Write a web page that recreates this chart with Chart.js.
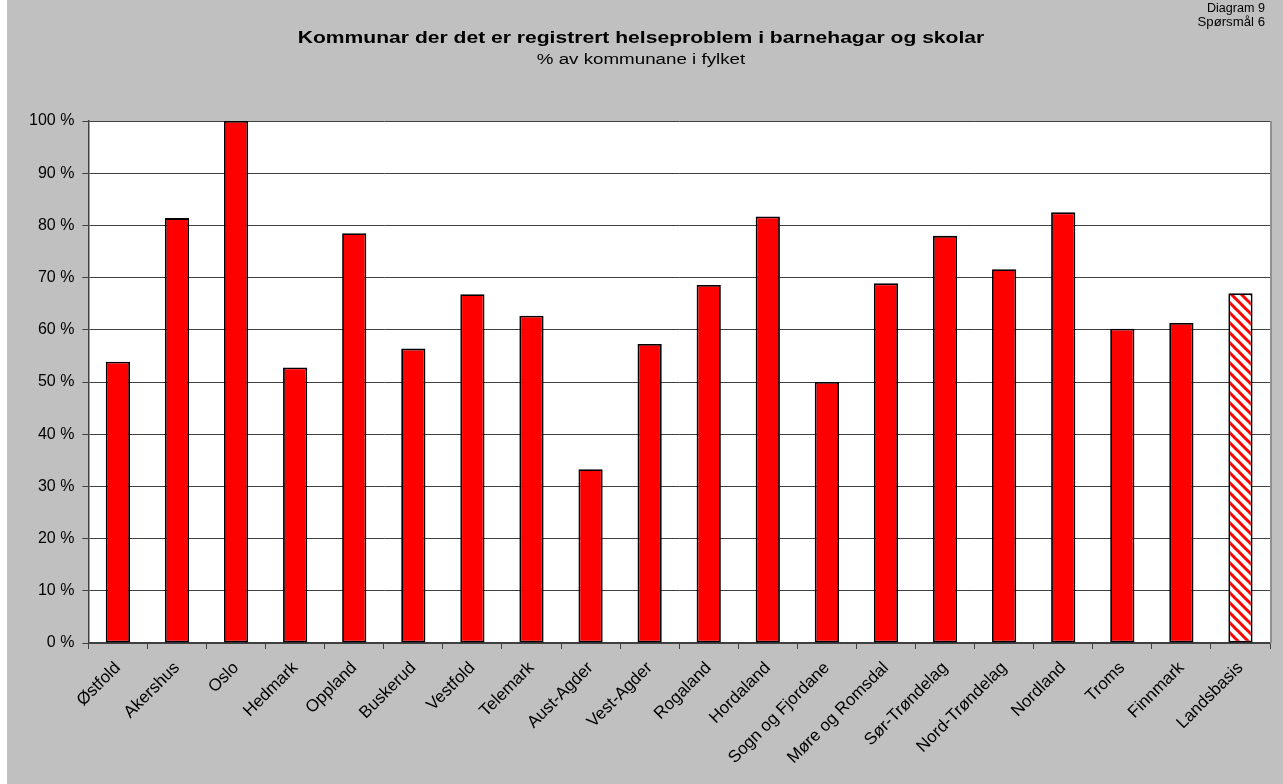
<!DOCTYPE html>
<html>
<head>
<meta charset="utf-8">
<script src="https://cdn.jsdelivr.net/npm/chart.js@4/dist/chart.umd.min.js"></script>
<style>
  html, body { margin: 0; padding: 0; background: #ffffff; }
  #wrap { position: absolute; left: 7px; top: 0; width: 1276px; height: 784px; background: #c0c0c0; }
</style>
</head>
<body>
<div id="wrap"><canvas id="myChart"></canvas></div>
<script>
var fylke = ['Østfold', 'Akershus', 'Oslo', 'Hedmark', 'Oppland', 'Buskerud', 'Vestfold', 'Telemark',
  'Aust-Agder', 'Vest-Agder', 'Rogaland', 'Hordaland', 'Sogn og Fjordane', 'Møre og Romsdal',
  'Sør-Trøndelag', 'Nord-Trøndelag', 'Nordland', 'Troms', 'Finnmark', 'Landsbasis'];
var prosent = [53.9, 81.4, 100, 52.8, 78.5, 56.4, 66.8, 62.7, 33.3, 57.3, 68.6, 81.7, 50.0, 68.9,
  78.0, 71.6, 82.5, 60.2, 61.3, 67.0];
var yTicks = [0, 10, 20, 30, 40, 50, 60, 70, 80, 90, 100];

var tittel = 'Kommunar der det er registrert helseproblem i barnehagar og skolar';
var undertittel = '% av kommunane i fylket';
var hjorne = ['Diagram 9', 'Spørsmål 6'];

var FONT = "'Liberation Sans', Arial, sans-serif";

// striped fill for the national average bar
function stripes() {
  var c = document.createElement('canvas');
  c.width = 10; c.height = 10;
  var g = c.getContext('2d');
  g.fillStyle = '#ffffff';
  g.fillRect(0, 0, 10, 10);
  g.strokeStyle = '#ff0000';
  g.lineWidth = 3;
  g.beginPath();
  g.moveTo(-3, -3); g.lineTo(13, 13);
  g.moveTo(-8, 2); g.lineTo(2, 12);
  g.moveTo(8, -2); g.lineTo(12, 2);
  g.stroke();
  return g.createPattern(c, 'repeat');
}

var colors = fylke.map(function (f, i) { return i === fylke.length - 1 ? stripes() : '#ff0000'; });

// text drawn a bit wider than the font, like the original
function wideText(ctx, txt, x, y, font, sx) {
  ctx.save();
  ctx.font = font;
  ctx.translate(x, y);
  ctx.scale(sx, 1);
  ctx.fillText(txt, 0, 0);
  ctx.restore();
}

var plotBg = {
  id: 'plotBg',
  beforeDraw: function (chart) {
    var a = chart.chartArea, ctx = chart.ctx;
    ctx.save();
    ctx.fillStyle = '#ffffff';
    ctx.fillRect(a.left, a.top, a.right - a.left, a.bottom - a.top);
    ctx.restore();
  },
  afterDraw: function (chart) {
    var a = chart.chartArea, ctx = chart.ctx;
    ctx.save();
    ctx.strokeStyle = '#909090';
    ctx.lineWidth = 2;
    ctx.beginPath();
    ctx.moveTo(a.right + 1, a.top);
    ctx.lineTo(a.right + 1, a.bottom);
    ctx.stroke();
    ctx.fillStyle = '#000000';
    ctx.textBaseline = 'middle';
    ctx.textAlign = 'center';
    wideText(ctx, tittel, 634, 38, 'bold 17px ' + FONT, 1.24);
    wideText(ctx, undertittel, 634, 60, '14px ' + FONT, 1.34);
    ctx.textAlign = 'right';
    wideText(ctx, hjorne[0], 1258, 9, '12px ' + FONT, 1.05);
    wideText(ctx, hjorne[1], 1258, 23, '12px ' + FONT, 1.1);
    ctx.restore();
  }
};

new Chart(document.getElementById('myChart'), {
  type: 'bar',
  data: {
    labels: fylke,
    datasets: [{
      data: prosent,
      backgroundColor: colors,
      borderColor: '#000000',
      borderWidth: 1.8,
      borderSkipped: false,
      categoryPercentage: 1,
      barPercentage: 0.41
    }]
  },
  options: {
    responsive: true,
    maintainAspectRatio: false,
    animation: false,
    layout: { padding: { left: 14, right: 13, top: 121, bottom: 7 } },
    plugins: {
      legend: { display: false },
      tooltip: { enabled: false }
    },
    scales: {
      x: {
        grid: { display: true, drawOnChartArea: false, drawTicks: true, tickLength: 6, color: '#404040', offset: true },
        border: { color: '#404040', width: 1.5 },
        ticks: {
          color: '#000000',
          font: { family: FONT, size: 17 },
          maxRotation: 45,
          minRotation: 45,
          autoSkip: false,
          padding: 9
        }
      },
      y: {
        min: 0,
        max: 100,
        afterBuildTicks: function (axis) { axis.ticks = yTicks.map(function (v) { return { value: v }; }); },
        grid: { color: '#404040', lineWidth: 1, tickLength: 6 },
        border: { color: '#404040', width: 1.5 },
        ticks: {
          color: '#000000',
          font: { family: FONT, size: 16 },
          padding: 8,
          callback: function (v) { return v + ' %'; }
        }
      }
    }
  },
  plugins: [plotBg]
});
</script>
</body>
</html>
